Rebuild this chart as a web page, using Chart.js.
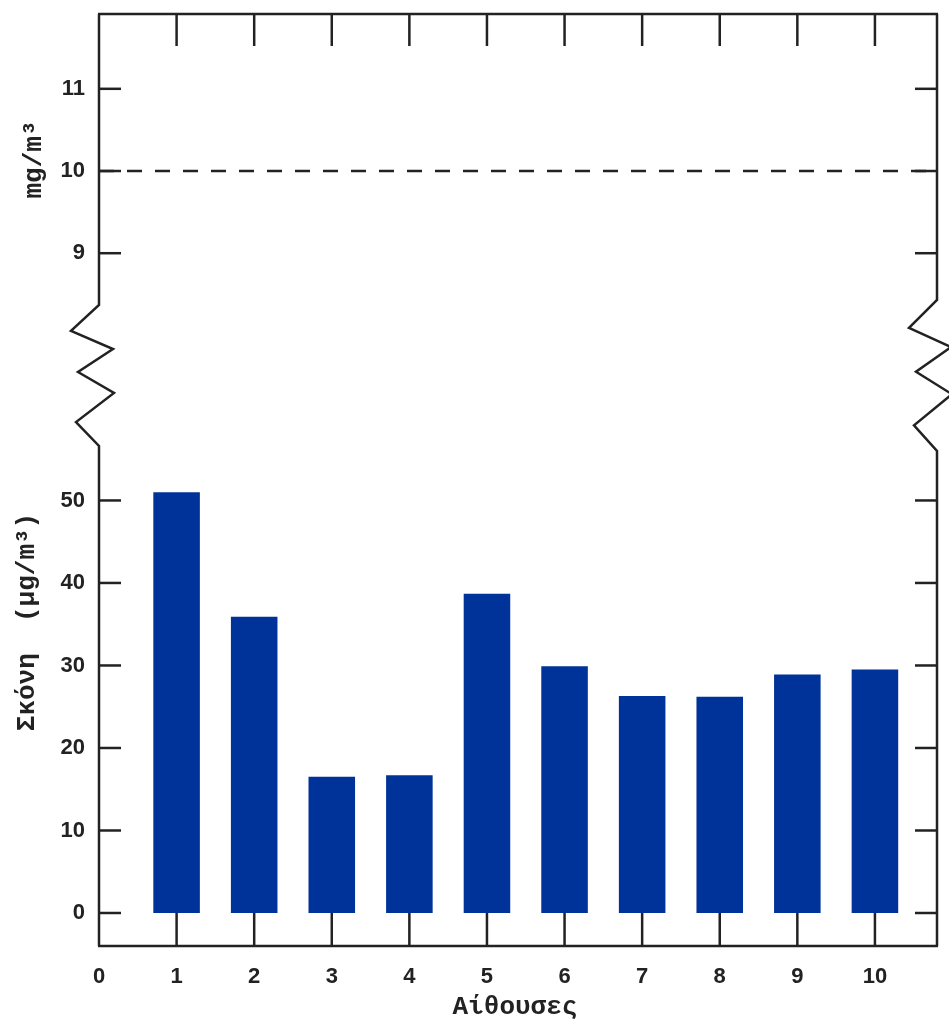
<!DOCTYPE html>
<html>
<head>
<meta charset="utf-8">
<title>Σκόνη ανά αίθουσα</title>
<script src="https://cdn.jsdelivr.net/npm/chart.js@4.4.1/dist/chart.umd.min.js"></script>
<style>
  html, body { margin: 0; padding: 0; background: #fff; }
  #wrap { position: relative; width: 949px; height: 1024px; }
</style>
</head>
<body>
<div id="wrap"><canvas id="dust" width="949" height="1024"></canvas></div>
<script>
// rooms on the x axis and measured dust per room (μg/m3)
var rooms = [1, 2, 3, 4, 5, 6, 7, 8, 9, 10];
var dust = [51.0, 35.9, 16.5, 16.7, 38.7, 29.9, 26.3, 26.2, 28.9, 29.5];
// limit shown on the upper (mg/m3) panel
var limitValue = 10;
var xRange = [0, 10.8];
var lowRange = [-4, 56.6];
var highRange = [8.37, 11.91];
var lowTicks = [0, 10, 20, 30, 40, 50];
var highTicks = [9, 10, 11];

var INK = '#222222';
var BAR = '#003399';
var tickFont = { family: 'Liberation Sans, Arial, sans-serif', size: 22, weight: 'bold' };
var titleFont = 'bold 26px "Liberation Mono", "Courier New", monospace';

// panel heights in px: upper, break, lower
var panelWeights = { high: 291, gap: 141, low: 500 };

// fixed left column, and no extra room for half-labels at the ends
function fixWidth(scale) {
  scale.width = 99;
  scale.paddingTop = 0;
  scale.paddingBottom = 0;
}

// zigzag shape for the axis break: fraction along the gap, horizontal offset
var zig = [[0, 0], [0.184, -28], [0.312, 14], [0.475, -21], [0.624, 15], [0.83, -23], [1, 0]];

var framePlugin = {
  id: 'frame',
  afterDraw: function (chart) {
    var ctx = chart.ctx;
    var area = chart.chartArea;
    var x = chart.scales.x, lo = chart.scales.yLow, hi = chart.scales.yHigh;
    var zeroY = lo.getPixelForValue(0);

    ctx.save();
    ctx.strokeStyle = INK;
    ctx.lineWidth = 2.5;
    ctx.lineCap = 'butt';

    function seg(x1, y1, x2, y2) {
      ctx.beginPath(); ctx.moveTo(x1, y1); ctx.lineTo(x2, y2); ctx.stroke();
    }

    // top and bottom frame
    seg(area.left - 1, area.top, area.right + 1, area.top);
    seg(area.left - 1, area.bottom, area.right + 1, area.bottom);

    // left and right frame with the broken section
    [[area.left, 0], [area.right, 5]].forEach(function (s) {
      var ax = s[0], ext = s[1];
      var y0 = hi.bottom - ext, y1 = lo.top + ext;
      ctx.beginPath();
      ctx.moveTo(ax, area.top);
      zig.forEach(function (p) { ctx.lineTo(ax + p[1], y0 + p[0] * (y1 - y0)); });
      ctx.lineTo(ax, area.bottom);
      ctx.stroke();
    });

    // tick marks pointing inward
    rooms.forEach(function (v) {
      var px = x.getPixelForValue(v);
      seg(px, area.bottom, px, zeroY);
      seg(px, area.top, px, area.top + 32);
    });
    lowTicks.forEach(function (v) {
      var py = lo.getPixelForValue(v);
      seg(area.left, py, area.left + 22, py);
      seg(area.right - 22, py, area.right, py);
    });
    highTicks.forEach(function (v) {
      var py = hi.getPixelForValue(v);
      seg(area.left, py, area.left + 22, py);
      seg(area.right - 22, py, area.right, py);
    });

    // axis titles
    ctx.fillStyle = INK;
    ctx.font = titleFont;
    ctx.textBaseline = 'alphabetic';
    ctx.textAlign = 'center';
    ctx.fillText('Αίθουσες', (area.left + area.right) / 2 - 3, 1014);

    ctx.save();
    ctx.translate(41, (hi.top + hi.bottom) / 2);
    ctx.rotate(-Math.PI / 2);
    ctx.fillText('mg/m³', 0, 0);
    ctx.restore();

    ctx.save();
    ctx.translate(34, 622);
    ctx.rotate(-Math.PI / 2);
    ctx.fillText('Σκόνη  (μg/m³)', 0, 0);
    ctx.restore();

    ctx.restore();
  }
};

new Chart(document.getElementById('dust').getContext('2d'), {
  type: 'bar',
  data: {
    datasets: [{
      data: rooms.map(function (r, i) { return { x: r, y: dust[i] }; }),
      backgroundColor: BAR,
      borderWidth: 0,
      barPercentage: 0.6,
      categoryPercentage: 1.0,
      xAxisID: 'x',
      yAxisID: 'yLow'
    }, {
      type: 'line',
      data: [{ x: xRange[0], y: limitValue }, { x: xRange[1], y: limitValue }],
      borderColor: INK,
      borderWidth: 2.6,
      borderDash: [15, 13],
      pointRadius: 0,
      fill: false,
      xAxisID: 'x',
      yAxisID: 'yHigh'
    }]
  },
  options: {
    responsive: false,
    animation: false,
    devicePixelRatio: 1,
    layout: { padding: { top: 14, right: 12, left: 0, bottom: 0 } },
    plugins: { legend: { display: false }, tooltip: { enabled: false } },
    scales: {
      x: {
        type: 'linear',
        position: 'bottom',
        min: xRange[0],
        max: xRange[1],
        offset: false,
        grid: { display: false, drawTicks: false, offset: false },
        border: { display: false },
        ticks: { stepSize: 1, includeBounds: false, autoSkip: false, maxRotation: 0,
                 padding: 18, color: INK, font: tickFont },
        afterFit: function (scale) {
          scale.height = 78;
          scale.paddingLeft = 0;
          scale.paddingRight = 0;
        }
      },
      yLow: {
        type: 'linear',
        position: 'left',
        stack: 'v',
        stackWeight: panelWeights.low,
        min: lowRange[0],
        max: lowRange[1],
        grid: { display: false, drawTicks: false },
        border: { display: false },
        ticks: { stepSize: 10, includeBounds: false, padding: 14, color: INK, font: tickFont },
        afterFit: fixWidth
      },
      yGap: {
        type: 'linear',
        position: 'left',
        stack: 'v',
        stackWeight: panelWeights.gap,
        min: 0,
        max: 1,
        grid: { display: false, drawTicks: false },
        border: { display: false },
        ticks: { display: false },
        afterFit: fixWidth
      },
      yHigh: {
        type: 'linear',
        position: 'left',
        stack: 'v',
        stackWeight: panelWeights.high,
        min: highRange[0],
        max: highRange[1],
        grid: { display: false, drawTicks: false },
        border: { display: false },
        ticks: { stepSize: 1, includeBounds: false, padding: 14, color: INK, font: tickFont },
        afterFit: fixWidth
      }
    }
  },
  plugins: [framePlugin]
});
</script>
</body>
</html>
